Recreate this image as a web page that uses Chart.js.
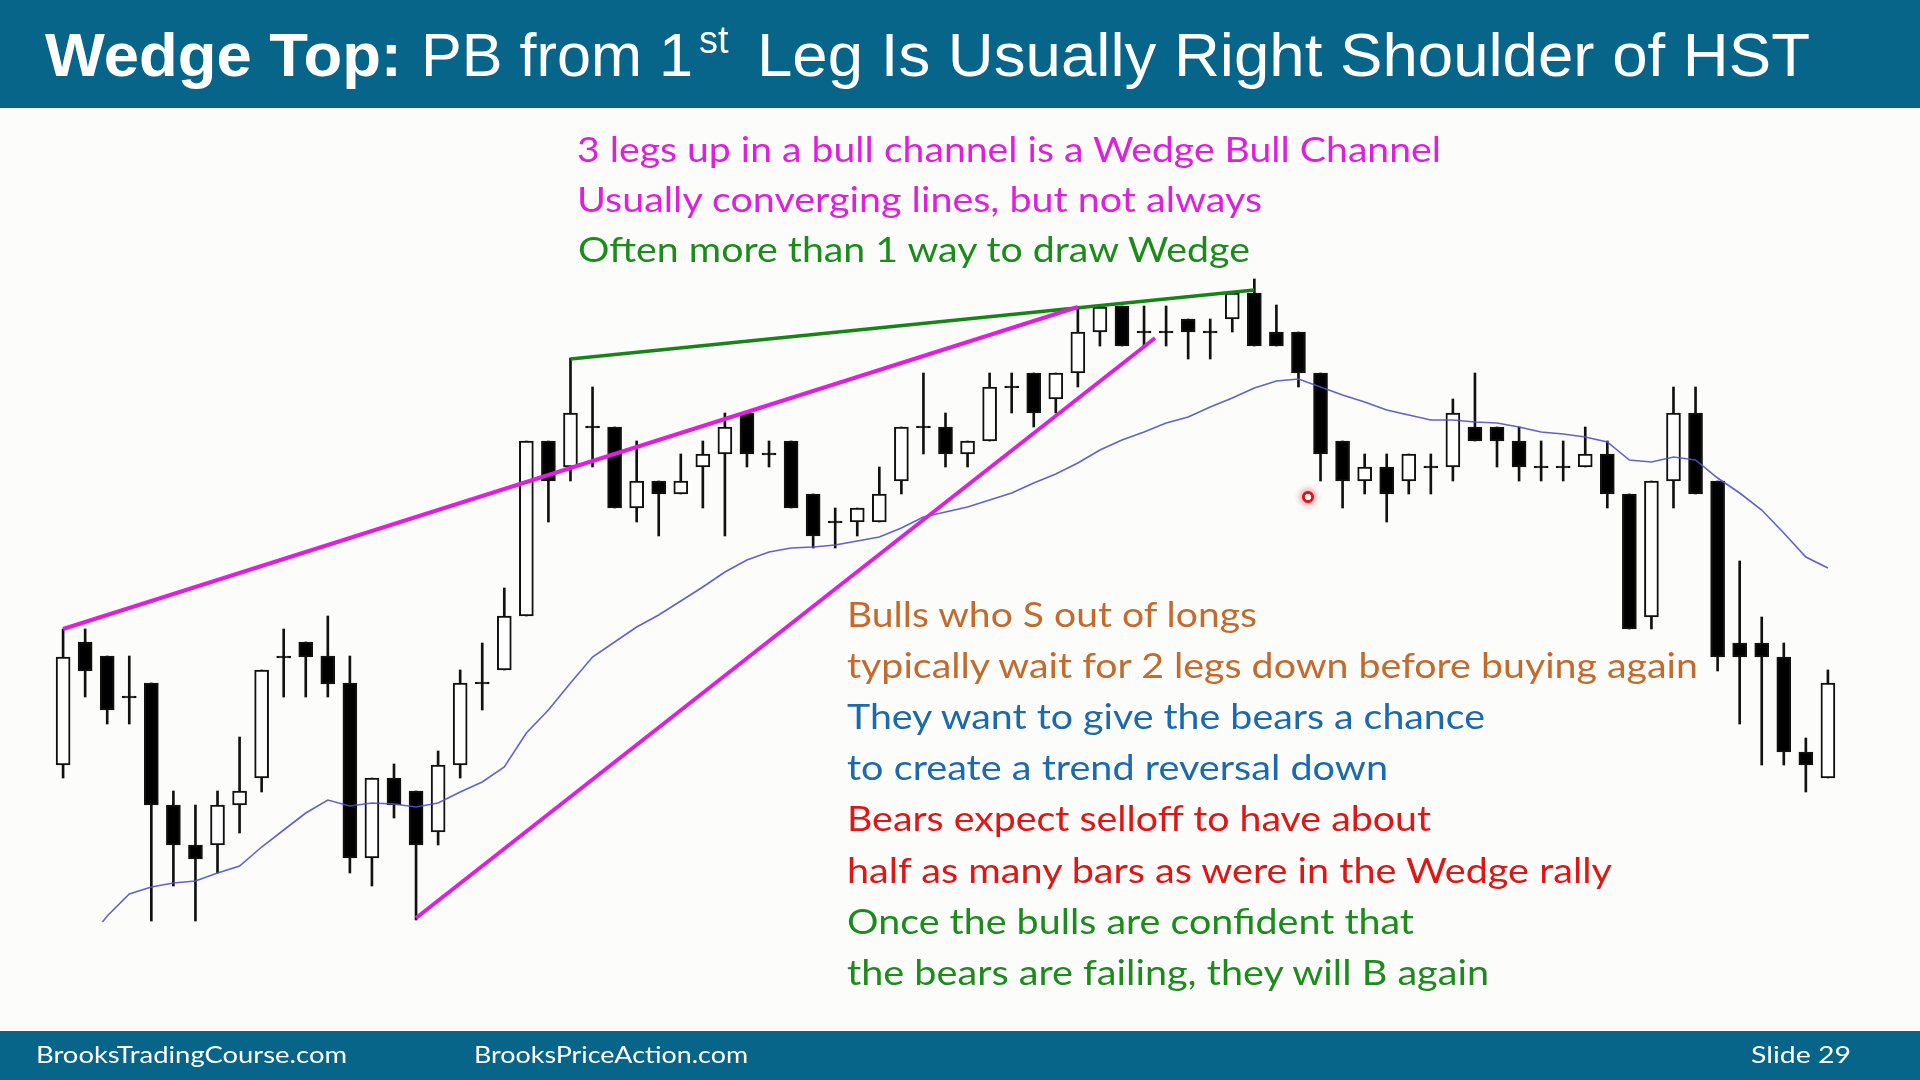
<!DOCTYPE html>
<html>
<head>
<meta charset="utf-8">
<script src="https://cdn.jsdelivr.net/npm/chart.js@4.4.1/dist/chart.umd.min.js"></script>
<style>
  html,body{margin:0;padding:0;width:1920px;height:1080px;overflow:hidden;background:#FCFCFA;}
  #title{position:absolute;left:0;top:0;width:1920px;height:108px;background:#07658A;}
  #footer{position:absolute;left:0;top:1031px;width:1920px;height:49px;background:#07658A;}
  #cv{position:absolute;left:0;top:0;}
  #ov{position:absolute;left:0;top:0;}
  #cursor{position:absolute;left:1294px;top:483px;width:28px;height:28px;border-radius:50%;
    background:radial-gradient(circle, rgba(230,20,30,0) 0px, rgba(230,20,30,0) 3px, #e0141e 3.5px, #e0141e 5.5px, rgba(240,80,90,0.35) 6.5px, rgba(255,180,185,0.15) 11px, rgba(255,255,255,0) 14px);}
</style>
</head>
<body>
<div id="title"></div>
<div id="footer"></div>
<canvas id="cv" width="1920" height="1080"></canvas>
<div id="cursor"></div>
<svg id="ov" width="1920" height="1080" xmlns="http://www.w3.org/2000/svg">
  <g font-family="'Liberation Sans', Arial, sans-serif" fill="#ffffff">
    <text x="45" y="76" font-size="62" font-weight="bold" textLength="357" lengthAdjust="spacingAndGlyphs">Wedge Top:</text>
    <text x="421" y="76" font-size="62" textLength="272" lengthAdjust="spacingAndGlyphs">PB from 1</text>
    <text x="699" y="53" font-size="38">st</text>
    <text x="757" y="76" font-size="62" textLength="1053" lengthAdjust="spacingAndGlyphs">Leg Is Usually Right Shoulder of HST</text>
  </g>
  <g id="notes" font-family="Lato, 'Open Sans', sans-serif" font-size="35"></g>
  <g font-family="Lato, 'Open Sans', sans-serif" font-size="24" fill="#ffffff">
    <text x="36" y="1063" textLength="311" lengthAdjust="spacingAndGlyphs">BrooksTradingCourse.com</text>
    <text x="474" y="1063" textLength="274" lengthAdjust="spacingAndGlyphs">BrooksPriceAction.com</text>
    <text x="1751" y="1063" textLength="100" lengthAdjust="spacingAndGlyphs">Slide  29</text>
  </g>
</svg>
<script>
// ---- Data (price units) ----
const opens  = [235,358,344,303,317,195,155,155,195,222,343,358,344,317,142,222,209,168,235,317,330,384,559,533,573,573,492,519,506,533,546,587,546,559,506,478,478,478,519,573,573,546,559,613,627,601,627,668,694,668,668,681,668,681,707,668,668,627,559,519,533,519,533,533,573,573,559,533,533,533,546,506,383,519,587,519,357,357,343,248,222];
const highs  = [371,371,344,344,317,209,195,209,263,330,371,358,384,344,222,236,209,249,330,357,412,559,559,642,613,573,559,519,546,559,587,587,559,559,506,492,492,533,573,627,587,559,627,627,627,627,693,695,694,694,694,681,681,707,721,695,668,627,559,546,546,546,546,601,627,573,573,559,559,573,559,506,519,613,613,519,439,383,357,262,330];
const lows   = [222,303,276,276,79,114,79,127,167,208,303,303,303,127,114,182,80,155,222,290,330,384,478,519,533,492,478,464,506,492,464,533,533,492,452,452,464,478,506,546,533,533,559,587,573,587,613,654,654,654,654,641,641,668,654,654,613,519,492,506,478,506,506,519,559,533,519,519,519,533,492,371,371,492,506,329,276,235,235,208,222];
const closes = [343,329,290,303,195,155,141,195,209,330,343,343,316,142,222,195,155,235,317,317,384,559,519,587,573,492,519,506,519,546,573,546,546,492,464,478,492,506,573,573,546,559,613,613,587,627,668,693,654,668,668,668,668,707,654,654,627,546,519,533,506,546,533,587,559,559,533,533,533,546,506,371,519,587,506,343,343,343,248,235,317];
const emaStart = 1;
const ema = [56,84,106,113,117,119,127,134,153,170,187,200,194,197,196,193,197,208,218,233,267,290,317,343,358,373,385,399,413,428,440,448,452,453,455,459,463,472,483,488,493,500,507,517,526,537,550,560,568,577,583,593,602,612,619,621,613,605,598,590,585,580,580,578,577,573,568,566,563,558,540,538,543,540,522,507,490,467,443,432];
// trendlines: [barIndex, price]
const upperWedgeLine = [[0,371],[46,693]];
const greenWedgeLine = [[23,641],[54,710]];
const lowerWedgeLine = [[16,82],[49.5,662]];

const notes = [
  {t:"3 legs up in a bull channel is a Wedge Bull Channel", c:"#DE1FDE"},
  {t:"Usually converging lines, but not always", c:"#DE1FDE"},
  {t:"Often more than 1 way to draw Wedge", c:"#1B8C1B"},
  {t:"Bulls who S out of longs", c:"#C46A2C"},
  {t:"typically wait for 2 legs down before buying again", c:"#C46A2C"},
  {t:"They want to give the bears a chance", c:"#1A6AAD"},
  {t:"to create a trend reversal down", c:"#1A6AAD"},
  {t:"Bears expect selloff to have about", c:"#DD1616"},
  {t:"half as many bars as were in the Wedge rally", c:"#DD1616"},
  {t:"Once the bulls are confident that", c:"#1B8C1B"},
  {t:"the bears are failing, they will B again", c:"#1B8C1B"}
];
// layout of note lines (x, baseline, width)
const noteLayout = [
  [577,162,864],[577,212,685],[578,262,672],
  [847,627,410],[847,678,851],[847,729,638],[847,780,541],[847,831,584],[847,883,765],[847,934,567],[847,985,642]
];
const g = document.getElementById('notes');
notes.forEach((n,i)=>{
  const el = document.createElementNS('http://www.w3.org/2000/svg','text');
  el.setAttribute('x', noteLayout[i][0]);
  el.setAttribute('y', noteLayout[i][1]);
  el.setAttribute('textLength', noteLayout[i][2]);
  el.setAttribute('lengthAdjust','spacingAndGlyphs');
  el.setAttribute('fill', n.c);
  el.textContent = n.t;
  g.appendChild(el);
});

// ---- build datasets ----
const wickData = highs.map((h,i)=>({x:i, y:[lows[i], h]}));
const bodyData = [], bodyFill = [];
opens.forEach((o,i)=>{
  const c = closes[i];
  if (o === c) { bodyData.push({x:i, y:[o-1, o+1]}); bodyFill.push('#000000'); }
  else if (c > o) { bodyData.push({x:i, y:[o, c]}); bodyFill.push('#FFFFFF'); }
  else { bodyData.push({x:i, y:[c, o]}); bodyFill.push('#000000'); }
});
const emaData = ema.map((v,i)=>({x:i+emaStart, y:v}));
const toPts = a => a.map(p=>({x:p[0], y:p[1]}));

new Chart(document.getElementById('cv'), {
  type: 'bar',
  data: {
    datasets: [
      {type:'line', data: toPts(upperWedgeLine), borderColor:'#DE1FDE', borderWidth:4, pointRadius:0, order:1},
      {type:'line', data: toPts(lowerWedgeLine), borderColor:'#DE1FDE', borderWidth:4, pointRadius:0, order:1},
      {type:'line', data: toPts(greenWedgeLine), borderColor:'#168416', borderWidth:3.5, pointRadius:0, order:1},
      {type:'line', data: emaData, borderColor:'rgba(80,80,205,0.9)', borderWidth:1.6, pointRadius:0, tension:0, order:2},
      {data: bodyData, backgroundColor: bodyFill, borderColor:'#111111', borderWidth:2, borderSkipped:false, barThickness:14, grouped:false, order:3},
      {data: wickData, backgroundColor:'#111111', borderWidth:0, barThickness:2, grouped:false, order:4}
    ]
  },
  options: {
    responsive:false, animation:false, devicePixelRatio:1,
    layout:{padding:{left:30, right:59, top:270, bottom:158}},
    plugins:{legend:{display:false}, tooltip:{enabled:false}},
    scales:{
      x:{type:'linear', min:-1.5, max:81.5, display:false, offset:false},
      y:{type:'linear', min:78, max:730, display:false, beginAtZero:false}
    }
  }
});
</script>
</body>
</html>
